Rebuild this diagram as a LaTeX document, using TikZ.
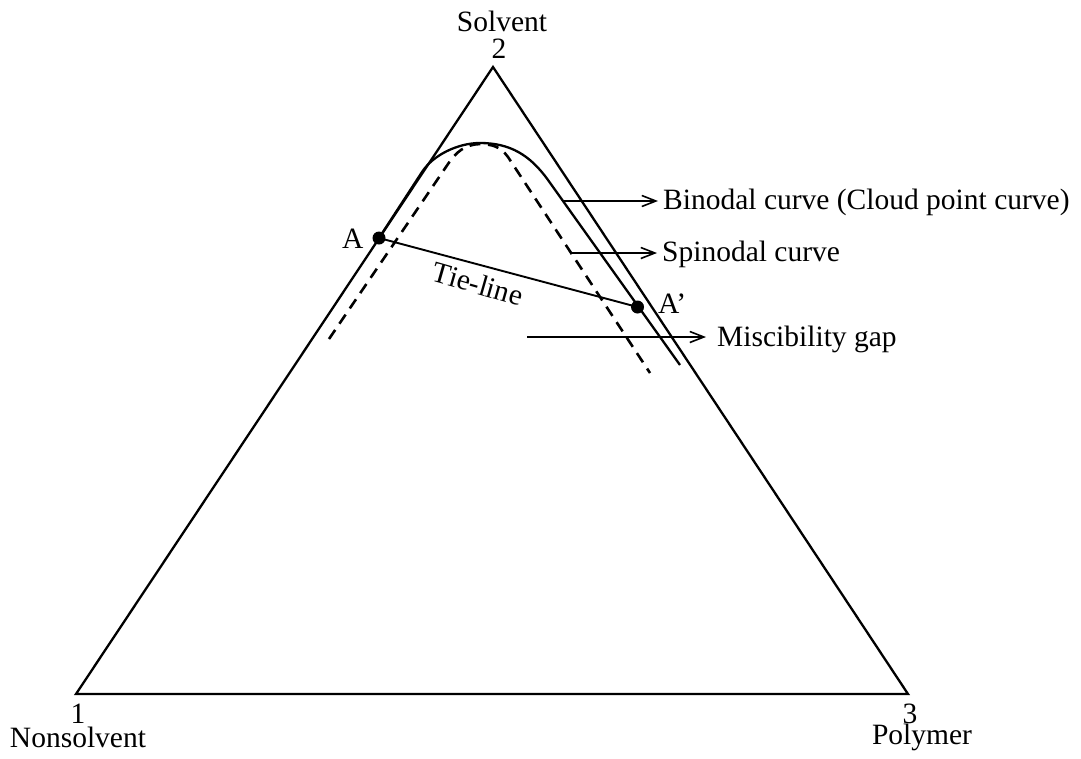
\documentclass[tikz,border=0pt]{standalone}
\usepackage{fontspec}
\setmainfont{Liberation Serif}
\usetikzlibrary{arrows.meta}
\begin{document}
\begin{tikzpicture}[x=1pt,y=-1pt,
  lbl/.style={font=\fontsize{29.5}{35}\selectfont, inner sep=0pt, anchor=base},
  lblw/.style={lbl, anchor=base west},
  edge/.style={line width=2.3pt, line join=miter},
  curve/.style={line width=2.3pt},
  spin/.style={line width=2.6pt, dash pattern=on 11pt off 7.5pt},
  pointer/.style={line width=1.6pt, -{Straight Barb[length=14pt,width=11pt,line width=1.6pt]}},
  dotmark/.style={circle, fill=black, inner sep=0pt, minimum size=13pt}]
\useasboundingbox (0,0) rectangle (1081,758);
% triangle corners
\coordinate (P1) at (76,694);
\coordinate (P2) at (493,67);
\coordinate (P3) at (908,694);
\draw[edge] (P1) -- (P2) -- (P3) -- cycle;
% corner labels
\node[lbl] (n2) at (499,58) {2};
\node[lbl] (solv) at (502,31) {Solvent};
\node[lbl] (n1) at (78,723) {1};
\node[lbl] (nons) at (78,747) {Nonsolvent};
\node[lbl] (n3) at (910,723) {3};
\node[lbl] (poly) at (922,744) {Polymer};
% spinodal curve (drawn first; its top runs under the binodal)
\coordinate (sstart) at (329,339);
\coordinate (sl) at (448,164);
\coordinate (stop) at (480,144);
\coordinate (sr) at (508,157);
\coordinate (send) at (650,373);
\draw[spin] (sstart) -- (sl) .. controls (456,152) and (465,144.5) .. (stop)
  .. controls (492,144.5) and (500,146) .. (sr) -- (send);
% binodal curve
\coordinate (A) at (379,238);
\coordinate (Ap) at (637.5,307);
\coordinate (bstart) at (422,172);
\coordinate (btop) at (480,143);
\coordinate (bturn) at (548,180);
\coordinate (bend) at (680,365);
\draw[curve] (A) -- (bstart) .. controls (433,155) and (458,143) .. (btop)
  .. controls (510,143) and (530,155) .. (bturn) -- (bend);
% tie-line
\node[dotmark] (dA) at (A) {};
\node[dotmark] (dAp) at (Ap) {};
\draw[line width=1.9pt] (dA.center) -- (dAp.center);
\node[lbl, anchor=center, rotate=-16] (tie) at (478,284) {Tie-line};
\node[lblw] (la) at (342,248) {A};
\node[lblw] (lap) at (658,313) {A’};
% pointers
\coordinate (b1) at (563,201);
\coordinate (b2) at (658,201);
\node[lblw] (tbin) at (663,209) {Binodal curve (Cloud point curve)};
\draw[pointer] (b1) -- (b2);
\coordinate (s1) at (571,253);
\coordinate (s2) at (657,253);
\node[lblw] (tspin) at (662,261) {Spinodal curve};
\draw[pointer] (s1) -- (s2);
\coordinate (m1) at (527,337);
\coordinate (m2) at (706,337);
\node[lblw] (tmis) at (717,346) {Miscibility gap};
\draw[pointer] (m1) -- (m2);
\end{tikzpicture}
\end{document}
